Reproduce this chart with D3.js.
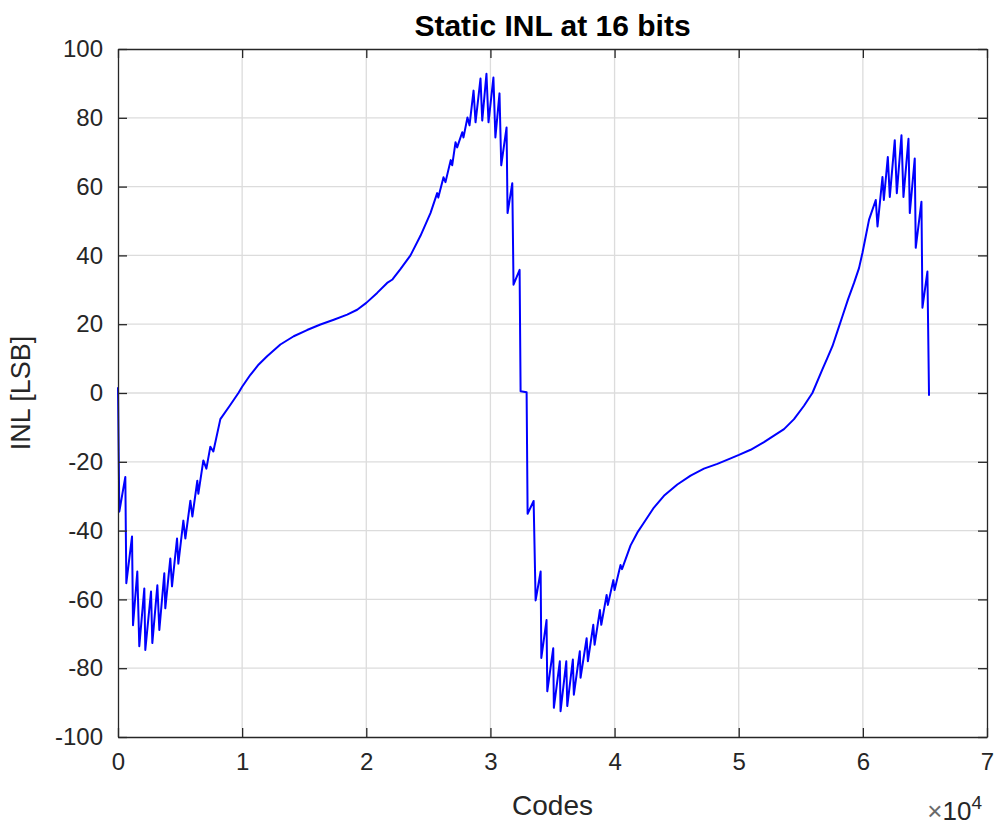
<!DOCTYPE html>
<html>
<head>
<meta charset="utf-8">
<script src="https://cdn.jsdelivr.net/npm/d3@7"></script>
<style>
  body { margin: 0; background: #fff; }
  text { font-family: "Liberation Sans", Arial, sans-serif; fill: #262626; }
</style>
</head>
<body>
<div id="chart"></div>
<script>
// codes (x, raw) and INL in LSB
const codes = [
  0, 105, 590, 670, 1130, 1210, 1555, 1715, 2120, 2200, 2660, 2765, 3170, 3330,
  3730, 3810, 4215, 4350, 4755, 4860, 5265, 5425, 5830, 5990, 6390, 6470, 6875,
  7120, 7440, 7680, 8245, 9000, 9700, 10000, 10665, 11335, 12010, 13080, 14155,
  15230, 16305, 17380, 18460, 19265, 20000, 20875, 21680, 22110,
  22750, 23560, 24365, 25170, 25710, 25800, 26220, 26380, 26800, 26920, 27190,
  27320, 27730, 27830, 28150, 28315, 28640, 28800, 29200, 29340, 29680, 29845,
  30240, 30400, 30730, 30870, 31300, 31380, 31760, 31860, 32350, 32430, 32915,
  32995, 33480, 33640, 34045, 34100, 34520, 34580, 35060, 35110, 35590, 35650,
  36110, 36190, 36640, 36720, 37200, 37260, 37750, 37850, 38285, 38390, 38820,
  38930, 39360, 39460, 39900, 40000, 40480, 40600, 41290, 41830, 42360, 43170,
  43975, 45055, 46125, 47200, 48280, 49350, 50020, 50960, 52035, 52840, 53650,
  54455, 55260, 55935, 56740, 57145, 57550, 57955, 58355, 58805, 59290, 59690,
  59965, 60230, 60500, 61040, 61180, 61580, 61690, 62010, 62170, 62570, 62735,
  63110, 63270, 63675, 63780, 64180, 64260, 64720, 64800, 65200, 65330
];
const inl = [
  1.7, -34.5, -24.4, -55.3, -41.7, -67.5, -51.9, -73.6, -56.8, -74.7, -57.7, -72.7, -55.9, -68.9,
  -52.4, -62.6, -48.1, -56.2, -42.3, -49.6, -37.1, -42.3, -31.3, -35.9, -25.5, -29.3, -19.6,
  -22, -15.6, -17, -7.6, -3.7, 0, 1.8, 5.3, 8.3, 10.7, 14.1, 16.5,
  18.3, 19.9, 21.3, 22.8, 24.2, 26.2, 29.1, 32, 33,
  36, 40, 45.7, 52.3, 58.1, 56.8, 62.7, 61.3, 67.7, 66.2, 72.9,
  71.4, 75.8, 74.3, 80.1, 77.8, 87.9, 78.7, 91.4, 79.2, 92.8, 78.7,
  91.7, 74.3, 87.1, 66.2, 77.2, 52.3, 61, 31.5, 35.8, 0.5, 0.2,
  -35.1, -31.4, -60.3, -51.9, -77, -66, -86.7, -74.2, -91.5, -78, -92.5,
  -78, -91, -77.5, -87.7, -75.1, -82.8, -71.3, -78, -67.4, -73.2, -63.1,
  -67.4, -58.7, -61.6, -54.4, -57.3, -50, -51.2, -44.3, -40.6, -37.7, -33.3,
  -29.9, -26.6, -24, -22, -20.6, -19, -18, -16.5, -14.3, -12.4, -10.5,
  -7.6, -3.7, 0, 6.9, 10.2, 13.6, 18, 22.3, 27.2, 32, 36.3,
  40.7, 45.5, 50.4, 56.1, 48.4, 62.8, 56.1, 68.6, 57, 73.5, 58.1,
  74.9, 57, 73.9, 52.3, 68.2, 42.2, 55.6, 24.8, 35.3, -0.8
];
const xTicks = [0, 1, 2, 3, 4, 5, 6, 7];       // x 10^4
const yTicks = [-100, -80, -60, -40, -20, 0, 20, 40, 60, 80, 100];

function inlChart() {
  const margin = { top: 49, right: 10, bottom: 90, left: 118 };
  const width = 997 - margin.left - margin.right;
  const height = 827 - margin.top - margin.bottom;

  const svg = d3.select("#chart")
    .append("svg")
    .attr("width", 997)
    .attr("height", 827)
    .append("g")
    .attr("transform", `translate(${margin.left},${margin.top})`);

  const x = d3.scaleLinear().domain([0, 7]).range([0, width]);
  const y = d3.scaleLinear().domain([-100, 100]).range([height, 0]);

  // grid
  svg.append("g")
    .selectAll("line.vg")
    .data(xTicks.slice(1, -1))
    .join("line")
    .attr("x1", d => x(d)).attr("x2", d => x(d))
    .attr("y1", 0).attr("y2", height)
    .attr("stroke", "#dcdcdc").attr("stroke-width", 1.3);

  svg.append("g")
    .selectAll("line.hg")
    .data(yTicks.slice(1, -1))
    .join("line")
    .attr("x1", 0).attr("x2", width)
    .attr("y1", d => y(d)).attr("y2", d => y(d))
    .attr("stroke", "#dcdcdc").attr("stroke-width", 1.3);

  // data line
  const line = d3.line()
    .x((d, i) => x(codes[i] / 10000))
    .y(d => y(d));

  svg.append("path")
    .datum(inl)
    .attr("fill", "none")
    .attr("stroke", "#0000ff")
    .attr("stroke-width", 2)
    .attr("stroke-linejoin", "round")
    .attr("d", line);

  // axes, ticks pointing inward like matlab
  const styleAxis = g => {
    g.select(".domain").attr("stroke", "#262626").attr("stroke-width", 1.3);
    g.selectAll(".tick line").attr("stroke", "#262626").attr("stroke-width", 1.3);
    g.selectAll("text").attr("fill", "#262626")
      .style("font-size", "24px")
      .style("font-family", "'Liberation Sans', Arial, sans-serif");
  };
  const fmt = d => String(d); // plain hyphen minus, as matlab

  svg.append("g")
    .attr("transform", `translate(0,${height})`)
    .call(d3.axisBottom(x).tickValues(xTicks).tickFormat(fmt).tickSize(-9).tickSizeOuter(0).tickPadding(16))
    .call(styleAxis);

  svg.append("g")
    .call(d3.axisTop(x).tickValues(xTicks).tickSize(-9).tickSizeOuter(0).tickFormat(""))
    .call(styleAxis);

  svg.append("g")
    .call(d3.axisLeft(y).tickValues(yTicks).tickFormat(fmt).tickSize(-9).tickSizeOuter(0).tickPadding(15))
    .call(styleAxis);

  svg.append("g")
    .attr("transform", `translate(${width},0)`)
    .call(d3.axisRight(y).tickValues(yTicks).tickSize(-9).tickSizeOuter(0).tickFormat(""))
    .call(styleAxis);

  // title & labels
  svg.append("text")
    .attr("x", width / 2)
    .attr("y", -13)
    .attr("text-anchor", "middle")
    .style("font-size", "30px")
    .style("font-weight", "bold")
    .style("fill", "#000")
    .text("Static INL at 16 bits");

  svg.append("text")
    .attr("x", width / 2)
    .attr("y", height + 78)
    .attr("text-anchor", "middle")
    .style("font-size", "28px")
    .text("Codes");

  svg.append("text")
    .attr("transform", `translate(${-88},${height / 2}) rotate(-90)`)
    .attr("text-anchor", "middle")
    .style("font-size", "27px")
    .text("INL [LSB]");

  const mult = svg.append("text")
    .attr("x", width - 5)
    .attr("y", height + 83)
    .attr("text-anchor", "end")
    .style("font-size", "26px");
  mult.append("tspan").style("fill", "#6a6a6a").text("\u00d7");
  mult.append("tspan").text("10");
  mult.append("tspan").attr("dy", -11).style("font-size", "19px").text("4");
}

inlChart();
</script>
</body>
</html>
